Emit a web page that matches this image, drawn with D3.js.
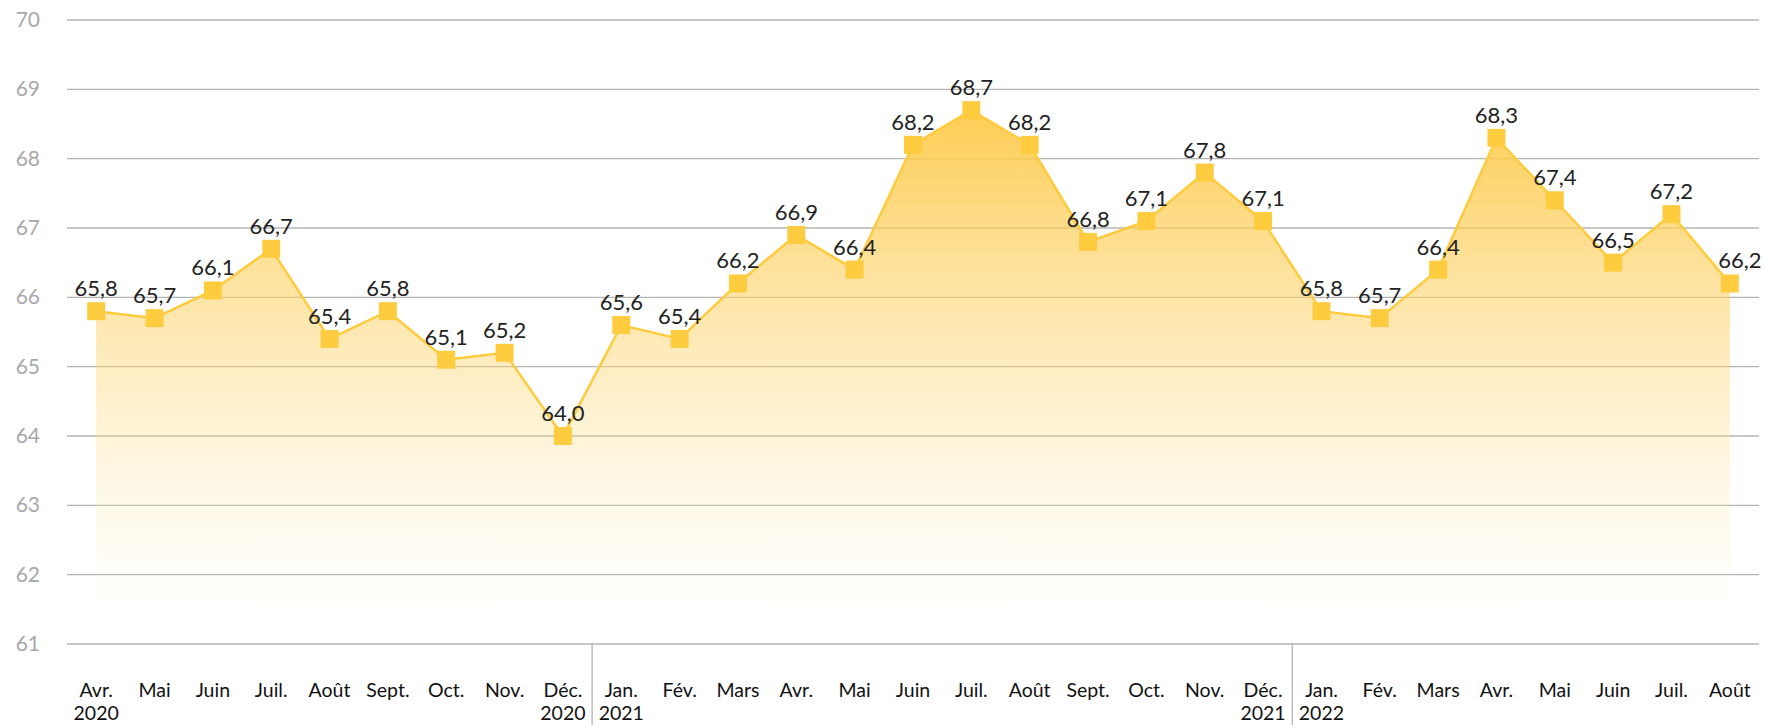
<!DOCTYPE html>
<html>
<head>
<meta charset="utf-8">
<script src="https://cdn.jsdelivr.net/npm/d3@7"></script>
<style>
  body { margin: 0; background: #fff; }
  svg text { font-family: Lato, "Noto Sans", sans-serif; }
</style>
</head>
<body>
<svg id="chart" width="1765" height="725"></svg>
<script>
const months = ["Avr.", "Mai", "Juin", "Juil.", "Août", "Sept.", "Oct.", "Nov.", "Déc.",
  "Jan.", "Fév.", "Mars", "Avr.", "Mai", "Juin", "Juil.", "Août", "Sept.", "Oct.", "Nov.", "Déc.",
  "Jan.", "Fév.", "Mars", "Avr.", "Mai", "Juin", "Juil.", "Août"];
const years = ["2020", "", "", "", "", "", "", "", "2020",
  "2021", "", "", "", "", "", "", "", "", "", "", "2021",
  "2022", "", "", "", "", "", "", ""];
const values = [65.8, 65.7, 66.1, 66.7, 65.4, 65.8, 65.1, 65.2, 64.0,
  65.6, 65.4, 66.2, 66.9, 66.4, 68.2, 68.7, 68.2, 66.8, 67.1, 67.8, 67.1,
  65.8, 65.7, 66.4, 68.3, 67.4, 66.5, 67.2, 66.2];
const yTicks = [61, 62, 63, 64, 65, 66, 67, 68, 69, 70];
const yearBreaks = [9, 21]; // index of first month of a new year

const data = values.map((v, i) => ({ i, v, month: months[i], year: years[i] }));

const svg = d3.select("#chart");
const dims = { left: 67, right: 1759, top: 20, bottom: 644 };

const x = d3.scaleBand()
  .domain(d3.range(values.length))
  .range([dims.left, dims.right]);
const cx = (i) => x(i) + x.bandwidth() / 2;

const y = d3.scaleLinear()
  .domain([61, 70])
  .range([dims.bottom, dims.top]);

// grid + y labels
const grid = svg.append("g");
grid.selectAll("line")
  .data(yTicks)
  .enter()
  .append("line")
  .attr("x1", dims.left)
  .attr("x2", dims.right)
  .attr("y1", (d) => y(d))
  .attr("y2", (d) => y(d))
  .attr("stroke", "#b4b4b4")
  .attr("stroke-width", 1.3);

grid.selectAll("text")
  .data(yTicks)
  .enter()
  .append("text")
  .attr("x", 40)
  .attr("y", (d) => y(d) + 7)
  .attr("text-anchor", "end")
  .attr("fill", "#a8a8a8")
  .attr("font-size", 21)
  .text((d) => d);

// year separators
svg.selectAll(".sep")
  .data(yearBreaks)
  .enter()
  .append("line")
  .attr("class", "sep")
  .attr("x1", (d) => x(d))
  .attr("x2", (d) => x(d))
  .attr("y1", dims.bottom)
  .attr("y2", 725)
  .attr("stroke", "#b4b4b4")
  .attr("stroke-width", 1.3);

// gradient for the area
const defs = svg.append("defs");
const grad = defs.append("linearGradient")
  .attr("id", "areaGrad")
  .attr("gradientUnits", "userSpaceOnUse")
  .attr("x1", 0).attr("x2", 0)
  .attr("y1", y(d3.max(values)))
  .attr("y2", y(61.55));
grad.append("stop").attr("offset", 0).attr("stop-color", "#fdc843").attr("stop-opacity", 0.92);
grad.append("stop").attr("offset", 0.5).attr("stop-color", "#fdd46e").attr("stop-opacity", 0.45);
grad.append("stop").attr("offset", 1).attr("stop-color", "#ffe9b0").attr("stop-opacity", 0.03);

const area = d3.area()
  .x((d) => cx(d.i))
  .y0(y(61.55))
  .y1((d) => y(d.v));

svg.append("path")
  .datum(data)
  .attr("d", area)
  .attr("fill", "url(#areaGrad)");

const line = d3.line()
  .x((d) => cx(d.i))
  .y((d) => y(d.v));

svg.append("path")
  .datum(data)
  .attr("d", line)
  .attr("fill", "none")
  .attr("stroke", "#ffcb3d")
  .attr("stroke-width", 2.5);

// markers
const size = 18;
svg.selectAll(".pt")
  .data(data)
  .enter()
  .append("rect")
  .attr("class", "pt")
  .attr("x", (d) => cx(d.i) - size / 2)
  .attr("y", (d) => y(d.v) - size / 2)
  .attr("width", size)
  .attr("height", size)
  .attr("fill", "#ffcc40");

// value labels
svg.selectAll(".val")
  .data(data)
  .enter()
  .append("text")
  .attr("class", "val")
  .attr("x", (d) => cx(d.i) + (d.i === values.length - 1 ? 10 : 0))
  .attr("y", (d) => y(d.v) - 15)
  .attr("text-anchor", "middle")
  .attr("fill", "#222")
  .attr("font-size", 22)
  .text((d) => d.v.toFixed(1).replace(".", ","));

// x labels
const xl = svg.selectAll(".xl")
  .data(data)
  .enter()
  .append("text")
  .attr("class", "xl")
  .attr("text-anchor", "middle")
  .attr("fill", "#111")
  .attr("font-size", 19.5);
xl.append("tspan")
  .attr("x", (d) => cx(d.i))
  .attr("y", 697)
  .text((d) => d.month);
xl.filter((d) => d.year)
  .append("tspan")
  .attr("x", (d) => cx(d.i))
  .attr("y", 720)
  .text((d) => d.year);
</script>
</body>
</html>
